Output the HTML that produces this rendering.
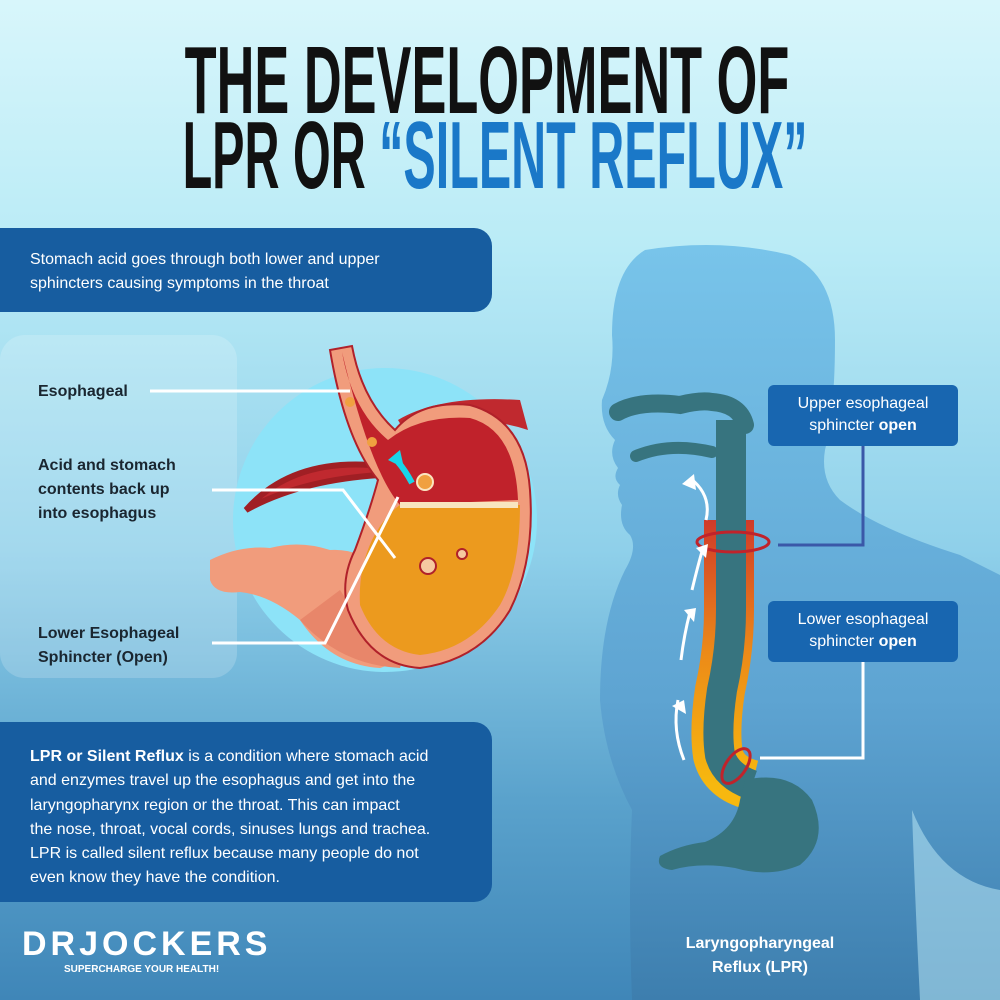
<!DOCTYPE html>
<html><head><meta charset="utf-8"><style>
html,body{margin:0;padding:0}
body{width:1000px;height:1000px;overflow:hidden;position:relative;font-family:"Liberation Sans",sans-serif;background:linear-gradient(180deg,#d8f6fb 0%,#b9ebf6 25%,#8fd0ea 55%,#5aa2cc 80%,#3f86b8 100%)}
svg{position:absolute;left:0;top:0}
.t{position:absolute;width:2000px;text-align:center;white-space:nowrap;font-family:"Liberation Sans Narrow","Liberation Sans",sans-serif;font-weight:bold;font-size:96px;line-height:96px;color:#111;transform-origin:1000px 0}
.box{position:absolute;background:#175da0;color:#fff;font-size:16px;line-height:24px}
.lbl{position:absolute;font-size:16px;font-weight:bold;line-height:24px;color:#1a2630}
.rb{position:absolute;left:768px;width:190px;height:61px;background:#1866b0;border-radius:6px;color:#fff;font-size:16px;line-height:22px;text-align:center;padding-top:8px;box-sizing:border-box}
</style></head><body>
<svg width="1000" height="1000" viewBox="0 0 1000 1000">
<defs>
<linearGradient id="bd" x1="0" y1="0" x2="0" y2="1"><stop offset="0" stop-color="#78c4ea"/><stop offset="0.6" stop-color="#5ea4d2"/><stop offset="1" stop-color="#3d7eae"/></linearGradient>
<linearGradient id="tb" x1="0" y1="0" x2="0" y2="1"><stop offset="0" stop-color="#d03a2a"/><stop offset="0.5" stop-color="#ec8a18"/><stop offset="1" stop-color="#f7b80f"/></linearGradient>
</defs>
<rect x="0" y="335" width="237" height="343" rx="25" fill="#ffffff" opacity="0.18"/>
<path d="M645 250 Q720 238 790 255 Q835 275 835 340 Q835 410 825 450 Q820 480 840 500 Q880 530 960 555 L1000 575 L1000 1000 L632 1000 Q628 900 632 810 Q605 760 600 700 Q600 620 625 570 Q638 548 630 535 Q618 525 622 505 Q615 495 620 485 Q612 478 618 468 Q608 455 615 440 Q600 425 602 400 Q615 370 612 335 Q612 270 645 250 Z" fill="url(#bd)"/>
<path d="M912 810 Q940 880 1000 890 L1000 1000 L920 1000 Q915 900 912 810Z" fill="#b8e6f4" opacity="0.55"/>
<circle cx="385" cy="520" r="152" fill="#8de3f8"/>
<path d="M210 560 Q240 545 270 548 Q300 540 330 550 Q360 548 380 570 L420 600 Q410 660 380 668 Q330 665 300 620 Q270 595 240 592 Q215 595 210 580Z" fill="#f19c7c"/>
<path d="M300 620 Q340 665 400 668 L420 600 Q370 640 340 590Z" fill="#e8866a"/>
<path d="M246 510 Q290 460 370 465 L380 475 Q300 480 246 510Z" fill="#c0292f" stroke="#a01f24" stroke-width="6"/>
<path d="M398 420 Q440 395 520 400 L528 430 Q470 410 410 440Z" fill="#c0292f"/>
<path d="M330 350 L352 346 Q362 400 395 430 Q420 400 470 405 Q525 420 530 490 Q535 560 510 610 Q480 660 420 668 Q370 665 348 610 Q340 580 355 550 Q370 510 378 480 Q345 440 330 350Z" fill="#f19c7c" stroke="#b0212a" stroke-width="2"/>
<path d="M342 352 Q352 410 388 440 Q420 415 470 418 Q515 430 518 500 L400 505 Q370 470 342 352Z" fill="#c0222b"/>
<path d="M400 505 L520 505 Q520 570 500 605 Q470 650 420 655 Q378 650 360 605 Q358 570 372 540 Q385 515 400 505Z" fill="#ec9a1e"/>
<path d="M400 505 L518 505" stroke="#f8e6c0" stroke-width="6"/>
<path d="M412 483 Q405 470 398 462" stroke="#19d5e8" stroke-width="6" fill="none"/>
<path d="M388 460 L400 450 L404 468Z" fill="#19d5e8"/>
<circle cx="425" cy="482" r="8" fill="#f0a040" stroke="#fbe5c0" stroke-width="2"/>
<circle cx="428" cy="566" r="8" fill="#f6c9a0" stroke="#b0212a" stroke-width="2"/>
<circle cx="462" cy="554" r="5" fill="#f6c9a0" stroke="#b0212a" stroke-width="2"/>
<circle cx="350" cy="402" r="5" fill="#f0a040"/>
<circle cx="372" cy="442" r="5" fill="#f0a040"/>
<g stroke="#fff" stroke-width="3" fill="none">
<path d="M150 391 H350"/>
<path d="M212 490 H343 L395 558"/>
<path d="M212 643 H325 L398 497"/>
</g>
<path d="M618 412 Q640 400 680 405 Q700 400 712 402 Q740 404 745 425" stroke="#37747f" stroke-width="18" fill="none" stroke-linecap="round"/>
<path d="M636 456 Q670 442 712 452" stroke="#37747f" stroke-width="12" fill="none" stroke-linecap="round"/>
<path d="M729 520 L729 610 Q729 650 720 690 Q714 730 718 755 Q724 778 752 785" stroke="url(#tb)" stroke-width="50" fill="none"/>
<path d="M731 420 L731 610 Q731 650 722 690 Q716 730 720 755 Q726 776 752 785" stroke="#37747f" stroke-width="30" fill="none"/>
<path d="M745 780 Q790 770 812 800 Q830 840 800 865 Q770 878 735 868 Q700 862 672 870 Q655 868 660 856 Q680 845 705 842 Q735 830 740 800Z" fill="#37747f"/>
<ellipse cx="733" cy="542" rx="36" ry="10" fill="none" stroke="#c0232b" stroke-width="3"/>
<ellipse cx="736" cy="766" rx="10" ry="20" transform="rotate(35 736 766)" fill="none" stroke="#c0232b" stroke-width="3"/>
<g stroke="#fff" stroke-width="3" fill="none">
<path d="M706 520 Q712 495 690 478"/><path d="M692 590 Q698 565 703 548"/>
<path d="M681 660 Q684 635 690 612"/><path d="M684 760 Q672 730 678 700"/>
</g>
<g fill="#fff"><path d="M682 484 L694 474 L696 490Z"/><path d="M696 548 L708 544 L706 558Z"/><path d="M684 610 L696 608 L694 622Z"/><path d="M672 706 L684 700 L686 714Z"/></g>
<path d="M778 545 H863 V446" stroke="#3a58a8" stroke-width="3" fill="none"/>
<path d="M760 758 H863 V661" stroke="#fff" stroke-width="3" fill="none"/>
</svg>
<div class="t" style="top:33px;left:-513px;transform:scaleX(0.545)">THE DEVELOPMENT OF</div>
<div class="t" style="top:108px;left:-505px;transform:scaleX(0.505)">LPR OR <span style="color:#1a78c8">“SILENT REFLUX”</span></div>
<div class="box" style="left:0;top:228px;width:492px;height:84px;border-radius:0 18px 18px 0;padding:20px 0 0 30px;box-sizing:border-box">Stomach acid goes through both lower and upper<br>sphincters causing symptoms in the throat</div>
<div class="lbl" style="left:38px;top:380px">Esophageal</div>
<div class="lbl" style="left:38px;top:454px">Acid and stomach<br>contents back up<br>into esophagus</div>
<div class="lbl" style="left:38px;top:622px">Lower Esophageal<br>Sphincter (Open)</div>
<div class="box" style="left:0;top:722px;width:492px;height:180px;border-radius:0 18px 18px 0;padding:23px 0 0 30px;box-sizing:border-box;line-height:24.3px"><b>LPR or Silent Reflux</b> is a condition where stomach acid<br>and enzymes travel up the esophagus and get into the<br>laryngopharynx region or the throat. This can impact<br>the nose, throat, vocal cords, sinuses lungs and trachea.<br>LPR is called silent reflux because many people do not<br>even know they have the condition.</div>
<div class="rb" style="top:385px">Upper esophageal<br>sphincter <b>open</b></div>
<div class="rb" style="top:601px">Lower esophageal<br>sphincter <b>open</b></div>
<div style="position:absolute;left:640px;top:932px;width:240px;text-align:center;color:#fff;font-weight:bold;font-size:16px;line-height:24px">Laryngopharyngeal<br>Reflux (LPR)</div>
<div style="position:absolute;left:22px;top:926px;color:#fff;font-weight:bold;font-size:34px;line-height:36px;letter-spacing:4px">DRJOCKERS</div>
<div style="position:absolute;left:64px;top:964px;color:#fff;font-weight:bold;font-size:10px;line-height:12px">SUPERCHARGE YOUR HEALTH!</div>
</body></html>
